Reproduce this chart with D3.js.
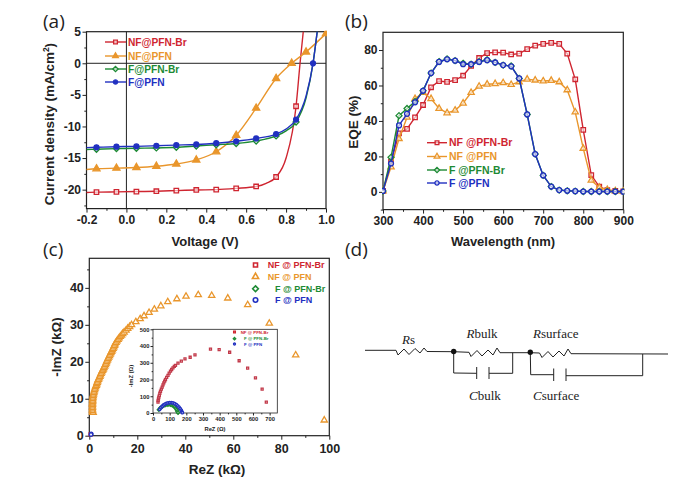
<!DOCTYPE html>
<html>
<head>
<meta charset="utf-8">
<script src="https://cdn.jsdelivr.net/npm/d3@7"></script>
<style>
  body { margin: 0; background: #fff; }
  text { font-family: "Liberation Sans", Arial, sans-serif; }
  .domain, .tick line { stroke: #222; }
  .tick text { font-weight: bold; fill: #222; }
</style>
</head>
<body>
<div id="chart-container"></div>
<script>
// colours and names
const red = "#cf2530", orange = "#e9962c", green = "#1d8a34", blue = "#2130c0";
const namesA = ["NF@PFN-Br", "NF@PFN", "F@PFN-Br", "F@PFN"];
const namesB = ["NF @PFN-Br", "NF @PFN", "F @PFN-Br", "F @PFN"];
const namesC = ["NF @ PFN-Br", "NF @ PFN", "F @ PFN-Br", "F @ PFN"];

// (a) J-V curves
const vNFBr = [-0.2, -0.15, -0.05, 0.05, 0.15, 0.25, 0.35, 0.45, 0.55, 0.65, 0.7, 0.75, 0.8, 0.85, 0.87, 0.886];
const jNFBr = [-20.45, -20.4, -20.35, -20.3, -20.25, -20.15, -20.05, -20, -19.8, -19.5, -19, -18, -15, -6.8, 0, 5];
const vNF = [-0.2, -0.15, -0.05, 0.05, 0.15, 0.25, 0.35, 0.45, 0.55, 0.65, 0.75, 0.828, 0.9, 1.0];
const jNF = [-16.8, -16.7, -16.6, -16.5, -16.3, -15.95, -15.3, -14, -11.4, -7.1, -2.4, 0, 1.8, 4.7];
const vF = [-0.2, -0.15, -0.05, 0.05, 0.15, 0.25, 0.35, 0.45, 0.55, 0.65, 0.75, 0.8, 0.85, 0.9, 0.935, 0.956];
const jFBr = [-13.65, -13.6, -13.5, -13.45, -13.4, -13.3, -13.1, -12.9, -12.7, -12.3, -11.5, -10.7, -9.3, -5.5, 0, 5];
const jFP = [-13.35, -13.3, -13.2, -13.15, -13.05, -12.95, -12.85, -12.65, -12.35, -11.9, -11.2, -10.4, -8.9, -5.2, 0, 5];
const skipA = [-0.2, 0.7, 0.8, 0.87, 0.886, 0.9, 0.935, 0.956]; // line points with no marker

// (b) EQE spectra
const wl = d3.range(300, 901, 20);
const eqeNFBr = [0.5, 17, 33, 35.5, 42, 49, 59, 62.5, 62, 63, 65.5, 71, 75.5, 78.3, 78.7, 78.5, 77.5, 78, 80.5, 82.5, 83.5, 84, 83.5, 78, 63.5, 35, 9.5, 3, 1, 0.5, 0.3];
const eqeNF = [0.5, 14, 30, 42, 52.5, 56, 52.5, 47, 44.5, 46, 50, 56, 59.5, 60.7, 61, 61.5, 60.5, 62, 63.5, 63, 62.5, 62.8, 62, 57.5, 45, 24.5, 6.5, 2.5, 1.2, 0.5, 0.2];
const eqeFBr = [0.5, 19.5, 43, 47, 51, 57, 67, 73.5, 75, 74, 72.5, 72, 73.5, 74.5, 73, 71.5, 71, 64, 43.7, 21.3, 9.3, 3, 1, 0.6, 0.4, 0.2, 0.2, 0.2, 0.2, 0.2, 0.1];
const eqeFP = [0.5, 16, 37.5, 44, 50.5, 57, 67, 73.3, 74.8, 74, 72, 72, 73.3, 74.3, 73, 71.5, 70.8, 64, 43.7, 21.3, 9.3, 3, 1, 0.6, 0.4, 0.2, 0.2, 0.2, 0.2, 0.2, 0.1];

// (c) impedance, main plot (kOhm)
const reNF = [1.3, 1.6, 1.3, 1.3, 1.3, 1.3, 1.3, 1.3, 1.4, 1.4,
  1.4, 1.5, 1.6, 1.7, 1.9, 2, 2.2, 2.4, 2.6, 2.9,
  3.1, 3.3, 3.5, 3.8, 4.1, 4.4, 4.6, 4.9, 5.2, 5.5,
  5.8, 6.1, 6.4, 6.7, 7, 7.2, 7.5, 7.8, 8.1, 8.4,
  8.7, 9, 9.3, 9.6, 9.9, 10.2, 10.5, 10.7, 11.1, 11.5,
  12, 12.4, 12.9, 13.4, 13.9, 14.5, 15.3, 16, 16.8, 17.6,
  19.4, 21.2, 22.8, 24.9, 27.1, 29.8, 32.7, 36.5, 40.3, 45.4, 51, 57.7, 66, 75, 86, 97.9];
const imNF = [6.4, 6.3, 6.8, 7.2, 7.6, 8, 8.4, 8.8, 9.2, 9.6,
  10, 10.4, 10.8, 11.2, 11.6, 12, 12.4, 12.8, 13.2, 13.6,
  14, 14.4, 14.8, 15.2, 15.6, 16, 16.4, 16.8, 17.2, 17.6,
  18, 18.4, 18.8, 19.2, 19.6, 20, 20.4, 20.8, 21.2, 21.6,
  22, 22.4, 22.8, 23.2, 23.6, 24, 24.4, 24.8, 25.2, 25.6,
  26, 26.4, 26.8, 27.2, 27.6, 28, 28.5, 29, 29.5, 30,
  30.8, 31.6, 32.4, 33.3, 34.2, 35.1, 36.2, 37, 37.7, 38.1, 37.9, 37.2, 35.4, 30.4, 21.8, 4.2];
const reOrigin = [0.6, 0.8, 0.7];
const imOrigin = [0.4, 0.5, 0.3];

// (c) inset (Ohm)
const reInNF = [30, 31, 33, 35, 38, 41, 45, 50, 55, 60, 65, 70, 75, 82, 90, 97, 105, 112, 120, 128, 135, 150, 170, 192, 223, 252, 345, 397, 460, 517, 568, 615, 655, 680];
const imInNF = [65, 75, 85, 95, 105, 118, 130, 143, 155, 168, 180, 190, 200, 213, 225, 238, 250, 260, 270, 278, 285, 298, 310, 323, 333, 347, 382, 378, 363, 312, 268, 210, 143, 65];
const reInFBr = [35, 42, 50, 58, 66, 75, 85, 95, 105, 115, 123, 130, 137, 142, 146, 150];
const imInFBr = [20, 28, 35, 41, 45, 48, 50, 51, 50, 47, 42, 36, 28, 20, 11, 2];
const reInFP = [40, 48, 56, 64, 72, 80, 90, 100, 110, 120, 130, 140, 148, 156, 163, 169, 173, 176];
const imInFP = [22, 32, 41, 48, 53, 57, 60, 62, 62, 60, 56, 50, 43, 35, 26, 17, 9, 2];

const W = 679, H = 486;
const svg = d3.select("#chart-container").append("svg")
  .attr("width", W).attr("height", H).style("display", "block");

// d3's own diamond is tall and narrow, the picture's is even
const evenDiamond = {
  draw(ctx, size) {
    const r = Math.sqrt(size / 2);
    ctx.moveTo(0, -r); ctx.lineTo(r, 0); ctx.lineTo(0, r); ctx.lineTo(-r, 0); ctx.closePath();
  }
};
const symbols = [d3.symbolSquare, d3.symbolTriangle, evenDiamond, d3.symbolCircle];
const symSize = [20, 17, 18, 19];

function marker(g, k, colour, size, fill) {
  return g.append("path")
    .attr("d", d3.symbol(symbols[k], size || symSize[k])())
    .attr("fill", fill ? colour : "#fff")
    .attr("fill-opacity", fill ? 1 : 0.6)
    .attr("stroke", colour)
    .attr("stroke-width", 1.3);
}

const hyphen = f => d => f(d).replace("\u2212", "-");

// frame + major and minor ticks on left and bottom
function frame(box, xDom, yDom, xTicks, xMinor, yTicks, yMinor, xFmt, fontSize) {
  const x = d3.scaleLinear().domain(xDom).range([box.l, box.r]);
  const y = d3.scaleLinear().domain(yDom).range([box.b, box.t]);
  const g = svg.append("g");
  g.append("rect")
    .attr("x", box.l).attr("y", box.t)
    .attr("width", box.r - box.l).attr("height", box.b - box.t)
    .attr("fill", "none").attr("stroke", "#222").attr("stroke-width", box.sw || 1.2);
  const major = box.major === undefined ? 4 : box.major;
  const minor = major * 0.55;
  g.append("g").attr("transform", `translate(0,${box.b})`)
    .call(d3.axisBottom(x).tickValues(xMinor).tickSize(minor).tickFormat(""))
    .call(a => a.select(".domain").remove());
  g.append("g").attr("transform", `translate(${box.l},0)`)
    .call(d3.axisLeft(y).tickValues(yMinor).tickSize(minor).tickFormat(""))
    .call(a => a.select(".domain").remove());
  g.append("g").attr("transform", `translate(0,${box.b})`)
    .call(d3.axisBottom(x).tickValues(xTicks).tickSize(major).tickPadding(box.padX || 3).tickFormat(hyphen(xFmt)))
    .call(a => a.select(".domain").remove())
    .call(a => a.selectAll("text").style("font-size", fontSize + "px"));
  g.append("g").attr("transform", `translate(${box.l},0)`)
    .call(d3.axisLeft(y).tickValues(yTicks).tickSize(major).tickPadding(box.padY || 1.5).tickFormat(hyphen(d3.format("d"))))
    .call(a => a.select(".domain").remove())
    .call(a => a.selectAll("text").style("font-size", fontSize + "px"));
  return { x, y };
}

function clipFor(id, box) {
  svg.append("clipPath").attr("id", id).append("rect")
    .attr("x", box.l - 1).attr("y", box.t - 1)
    .attr("width", box.r - box.l + 2).attr("height", box.b - box.t + 2);
}

function label(x, y, str, size, opts = {}) {
  const t = svg.append("text").attr("x", x).attr("y", y)
    .attr("font-size", size)
    .attr("font-weight", opts.weight || "bold")
    .attr("text-anchor", opts.anchor || "start")
    .attr("fill", opts.fill || "#222")
    .text(str);
  if (opts.rotate) t.attr("transform", `rotate(-90,${x},${y})`);
  if (opts.family) t.style("font-family", opts.family);
  return t;
}

function panelLabel(x, y, str) {
  label(x, y, str, 19, { weight: "normal", family: "'Open Sans', sans-serif" });
}

function series(sc, xs, ys, colour, k, opts = {}) {
  const pts = xs.map((d, i) => [d, ys[i]]);
  const g = svg.append("g").attr("clip-path", opts.clip ? `url(#${opts.clip})` : null);
  if (!opts.noLine) {
    g.append("path").datum(pts)
      .attr("fill", "none").attr("stroke", colour).attr("stroke-width", 1.4)
      .attr("d", d3.line().x(d => sc.x(d[0])).y(d => sc.y(d[1])).curve(opts.curve || d3.curveLinear));
  }
  const shown = opts.skip ? pts.filter(d => !opts.skip.includes(d[0])) : pts;
  shown.forEach(d => {
    marker(g, k, colour, opts.size, opts.fill)
      .attr("transform", `translate(${sc.x(d[0])},${sc.y(d[1])})`);
  });
}

function legendLine(x0, x1, xt, y, name, colour, k, size, fill) {
  svg.append("line").attr("x1", x0).attr("x2", x1).attr("y1", y).attr("y2", y)
    .attr("stroke", colour).attr("stroke-width", 1.4);
  marker(svg.append("g"), k, colour, 14, fill)
    .attr("transform", `translate(${(x0 + x1) / 2},${y})`);
  label(xt, y + size * 0.36, name, size, { fill: colour });
}

// ---- (a)
const boxA = { l: 86.5, r: 326, t: 31.7, b: 208.6 };
const a = frame(boxA, [-0.2, 1.0], [-23, 5],
  d3.range(-0.2, 1.01, 0.2).map(d => +d.toFixed(1)), d3.range(-0.1, 1, 0.2).map(d => +d.toFixed(1)),
  [-20, -15, -10, -5, 0, 5], d3.range(-22.5, 5, 5),
  d3.format(".1f"), 12);
clipFor("clipA", boxA);
svg.append("line").attr("x1", boxA.l).attr("x2", boxA.r).attr("y1", a.y(0)).attr("y2", a.y(0)).attr("stroke", "#222");
svg.append("line").attr("x1", a.x(0)).attr("x2", a.x(0)).attr("y1", boxA.t).attr("y2", boxA.b).attr("stroke", "#222");
const optA = { clip: "clipA", curve: d3.curveMonotoneX, skip: skipA };
series(a, vNFBr, jNFBr, red, 0, optA);
series(a, vNF, jNF, orange, 1, { clip: "clipA", curve: d3.curveMonotoneX, fill: true, size: 22, skip: [-0.2] });
series(a, vF, jFBr, green, 2, optA);
series(a, vF, jFP, blue, 3, { clip: "clipA", curve: d3.curveMonotoneX, fill: true, skip: [-0.2, 0.8, 0.9, 0.956] });
[red, orange, green, blue].forEach((c, i) => {
  legendLine(105, 126, 128, [42, 56, 69, 82][i], namesA[i], c, i, 10.2, i % 2 === 1);
});
panelLabel(43, 28, "(a)");
const titleA = label(54, 124, "Current density (mA/cm", 13.5, { anchor: "middle", rotate: true });
titleA.append("tspan").attr("dy", -5).attr("font-size", 8.5).text("2");
titleA.append("tspan").attr("dy", 5).text(")");
label(205, 246, "Voltage (V)", 13, { anchor: "middle" });

// ---- (b)
const boxB = { l: 383, r: 623.3, t: 32.3, b: 209.6 };
const b = frame(boxB, [300, 900], [-10, 90],
  d3.range(300, 901, 100), d3.range(350, 900, 100),
  [0, 20, 40, 60, 80], d3.range(-10, 90, 20),
  d3.format("d"), 12);
clipFor("clipB", boxB);
series(b, wl, eqeNFBr, red, 0, { clip: "clipB" });
series(b, wl, eqeNF, orange, 1, { clip: "clipB" });
series(b, wl, eqeFBr, green, 2, { clip: "clipB" });
series(b, wl, eqeFP, blue, 3, { clip: "clipB" });
[red, orange, green, blue].forEach((c, i) => {
  legendLine(427, 447, 449, [142.7, 156.5, 170, 183][i], namesB[i], c, i, 10.5, false);
});
panelLabel(345, 28, "(b)");
label(358, 122, "EQE (%)", 13.5, { anchor: "middle", rotate: true });
label(503, 246, "Wavelength (nm)", 13, { anchor: "middle" });

// ---- (c)
const boxC = { l: 89.3, r: 329.3, t: 258.3, b: 435.7, padX: 4 };
const c = frame(boxC, [0, 100], [0, 48],
  d3.range(0, 101, 20), d3.range(10, 100, 20),
  [0, 10, 20, 30, 40], d3.range(5, 46, 10),
  d3.format("d"), 12.5);
series(c, reNF, imNF, orange, 1, { noLine: true, size: 17 });
series(c, reOrigin.slice(0, 1), imOrigin.slice(0, 1), red, 0, { noLine: true, size: 10 });
series(c, reOrigin.slice(1), imOrigin.slice(1), blue, 3, { noLine: true, size: 10 });
[red, orange, green, blue].forEach((col, i) => {
  const y = [265, 276.7, 288.7, 300][i];
  marker(svg.append("g"), i, col, 16).attr("stroke-width", 1.6).attr("transform", `translate(255.5,${y})`);
  label(i < 2 ? 267.7 : 275, y + 3.2, namesC[i], 9, { fill: col });
});
panelLabel(43, 256, "(c)");
label(61, 347, "-ImZ (k\u03a9)", 13.5, { anchor: "middle", rotate: true });
label(217, 474, "ReZ (k\u03a9)", 13.5, { anchor: "middle" });

// inset
const boxI = { l: 153, r: 277.3, t: 329.3, b: 413, major: 2.5, padX: 1.5, padY: 1, sw: 0.8 };
svg.append("rect").attr("x", boxI.l).attr("y", boxI.t)
  .attr("width", boxI.r - boxI.l).attr("height", boxI.b - boxI.t).attr("fill", "#fff");
const ins = frame(boxI, [0, 746], [0, 500],
  d3.range(0, 701, 100), d3.range(50, 750, 100),
  d3.range(0, 501, 100), d3.range(50, 500, 100),
  d3.format("d"), 5.8);
series(ins, reInNF, imInNF, "#c23a4a", 0, { noLine: true, size: 4 });
series(ins, reInFBr, imInFBr, green, 2, { noLine: true, size: 5 });
series(ins, reInFP, imInFP, blue, 3, { noLine: true, size: 5 });
[red, green, blue].forEach((col, i) => {
  const k = [0, 2, 3][i], y = [332, 338.7, 344][i];
  marker(svg.append("g"), k, col, 3).attr("transform", `translate(234.5,${y})`);
  label(i === 0 ? 240.7 : 244, y + 1.6, namesC[k], 4.4, { fill: col });
});
label(132.5, 376, "-ImZ (\u03a9)", 5.8, { anchor: "middle", rotate: true });
label(215, 431, "ReZ (\u03a9)", 5.8, { anchor: "middle" });

// ---- (d) circuit
panelLabel(345, 256, "(d)");
const wire = d3.line();
const circuit = [
  [[365, 350.3], [396, 350.3], [398, 355], [404, 349], [409, 354.5], [415, 348.5], [420, 353], [424, 348], [427, 351.5], [453.7, 351.7]],
  [[453.7, 351.7], [469, 352.3], [471, 356.5], [477, 350.5], [482, 356], [488, 350], [493, 355], [497, 348], [500, 352.7], [530.3, 352.7]],
  [[530.3, 352.7], [539.5, 353], [542, 357.5], [548, 351.5], [553, 357], [559, 351], [564, 356], [568, 349], [571, 353.7], [668, 354]],
  [[453.7, 351.7], [453.7, 373], [476.5, 373.3]],
  [[489, 373.3], [512.7, 373.3], [512.7, 352.7]],
  [[530.3, 352.7], [530.7, 374.7], [553.7, 374.7]],
  [[566, 375.7], [642.7, 375.7], [642.7, 354]],
  [[476.7, 367], [476.7, 379]],
  [[489, 367], [489, 379]],
  [[553.7, 368.5], [553.7, 381]],
  [[566, 368.5], [566, 381]]
];
svg.append("g").selectAll("path").data(circuit).join("path")
  .attr("d", wire).attr("fill", "none").attr("stroke", "#222").attr("stroke-width", 1);
svg.append("g").selectAll("circle").data([[453.7, 351.5], [530.3, 352.3]]).join("circle")
  .attr("cx", d => d[0]).attr("cy", d => d[1]).attr("r", 2.7).attr("fill", "#111");

function circuitLabel(x, y, letter, rest) {
  const t = label(x, y, "", 13, { weight: "normal", family: "'Liberation Serif', serif" });
  t.append("tspan").attr("font-style", "italic").text(letter);
  t.append("tspan").text(rest);
}
circuitLabel(402, 343.5, "R", "s");
circuitLabel(466.5, 338.3, "R", "bulk");
circuitLabel(533, 338.3, "R", "surface");
circuitLabel(469, 400.3, "C", "bulk");
circuitLabel(533, 400.3, "C", "surface");
</script>
</body>
</html>
